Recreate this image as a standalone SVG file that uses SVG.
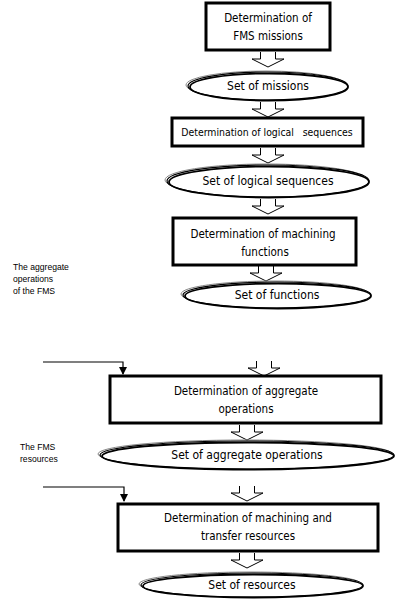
<svg xmlns="http://www.w3.org/2000/svg" width="398" height="600" viewBox="0 0 398 600">
<style>
.box{fill:#fff;stroke:#000;stroke-width:3}
.t{font-family:"DejaVu Sans Condensed","Noto Sans",Tahoma,sans-serif;font-size:11.5px;fill:#000;text-anchor:middle;white-space:pre}
.te{font-size:12px}
.s{font-family:"Liberation Sans",Arial,sans-serif;font-size:8.6px;fill:#000}
.ha{fill:#fff;stroke:#000;stroke-width:1}
.e0{fill:#fff;stroke:#000;stroke-width:1.2}
.e1{fill:none;stroke:#888;stroke-width:1}
.e2{fill:none;stroke:#000;stroke-width:1.8}
.ln{fill:none;stroke:#000;stroke-width:1.2}
</style>
<defs>
<marker id="ah" markerWidth="8" markerHeight="8" refX="7" refY="4" orient="auto" markerUnits="userSpaceOnUse">
<path d="M0,0 L8,4 L0,8 Z" fill="#000"/>
</marker>
<path id="harrow" class="ha" d="M-7.5,0 L-7.5,7 L-16,7 L0,15 L16,7 L7.5,7 L7.5,0"/>
</defs>

<g id="connectors">
<use href="#harrow" x="268" y="52"/>
<use href="#harrow" x="268" y="102"/>
<use href="#harrow" x="268" y="148"/>
<use href="#harrow" x="268" y="199"/>
<use href="#harrow" x="266" y="266"/>
<use href="#harrow" x="264" y="361"/>
<use href="#harrow" x="247" y="425"/>
<use href="#harrow" x="247" y="486"/>
<use href="#harrow" x="247" y="553"/>
<path class="ln" d="M43,362 H123 V374" marker-end="url(#ah)"/>
<path class="ln" d="M43,487 H124 V501" marker-end="url(#ah)"/>
</g>

<g id="n1">
<rect class="box" x="206" y="3" width="124" height="47"/>
<text class="t" x="268" y="22">Determination of</text>
<text class="t" x="268" y="40">FMS missions</text>
</g>

<g id="n2">
<ellipse class="e1" cx="266" cy="85" rx="80" ry="14"/>
<ellipse class="e0" cx="268" cy="86" rx="80" ry="14"/>
<ellipse class="e2" cx="269" cy="87" rx="79" ry="13.5"/>
<text class="t te" x="268" y="90">Set of missions</text>
</g>

<g id="n3">
<rect class="box" x="172" y="118" width="191" height="28"/>
<text class="t" x="267" y="136" style="font-size:10.4px">Determination of logical   sequences</text>
</g>

<g id="n4">
<ellipse class="e1" cx="266" cy="180" rx="101" ry="16"/>
<ellipse class="e0" cx="268" cy="181" rx="101" ry="16"/>
<ellipse class="e2" cx="269" cy="182" rx="100" ry="15.5"/>
<text class="t te" x="268" y="185">Set of logical sequences</text>
</g>

<g id="n5">
<rect class="box" x="173" y="218" width="183" height="47"/>
<text class="t" x="263" y="238">Determination of machining</text>
<text class="t" x="265" y="256">functions</text>
</g>

<g id="n6">
<ellipse class="e1" cx="275" cy="294" rx="94" ry="13"/>
<ellipse class="e0" cx="277" cy="295" rx="94" ry="13"/>
<ellipse class="e2" cx="278" cy="296" rx="93" ry="12.5"/>
<text class="t te" x="277" y="299">Set of functions</text>
</g>

<g id="lab1">
<text class="s" x="13" y="270">The aggregate</text>
<text class="s" x="13" y="282">operations</text>
<text class="s" x="13" y="294">of the FMS</text>
</g>

<g id="n7">
<rect class="box" x="110" y="376" width="271" height="47"/>
<text class="t" x="246" y="395">Determination of aggregate</text>
<text class="t" x="246" y="413">operations</text>
</g>

<g id="n8">
<ellipse class="e1" cx="245" cy="454" rx="147" ry="14"/>
<ellipse class="e0" cx="247" cy="455" rx="147" ry="14"/>
<ellipse class="e2" cx="248" cy="456" rx="146" ry="13.5"/>
<text class="t te" x="247" y="459">Set of aggregate operations</text>
</g>

<g id="lab2">
<text class="s" x="20" y="450">The FMS</text>
<text class="s" x="20" y="462">resources</text>
</g>

<g id="n9">
<rect class="box" x="118" y="504" width="260" height="47"/>
<text class="t" x="248" y="522">Determination of machining and</text>
<text class="t" x="248" y="540">transfer resources</text>
</g>

<g id="n10">
<ellipse class="e1" cx="250" cy="584" rx="111" ry="12"/>
<ellipse class="e0" cx="252" cy="585" rx="111" ry="12"/>
<ellipse class="e2" cx="253" cy="586" rx="110" ry="11.5"/>
<text class="t te" x="252" y="589">Set of resources</text>
</g>
</svg>
